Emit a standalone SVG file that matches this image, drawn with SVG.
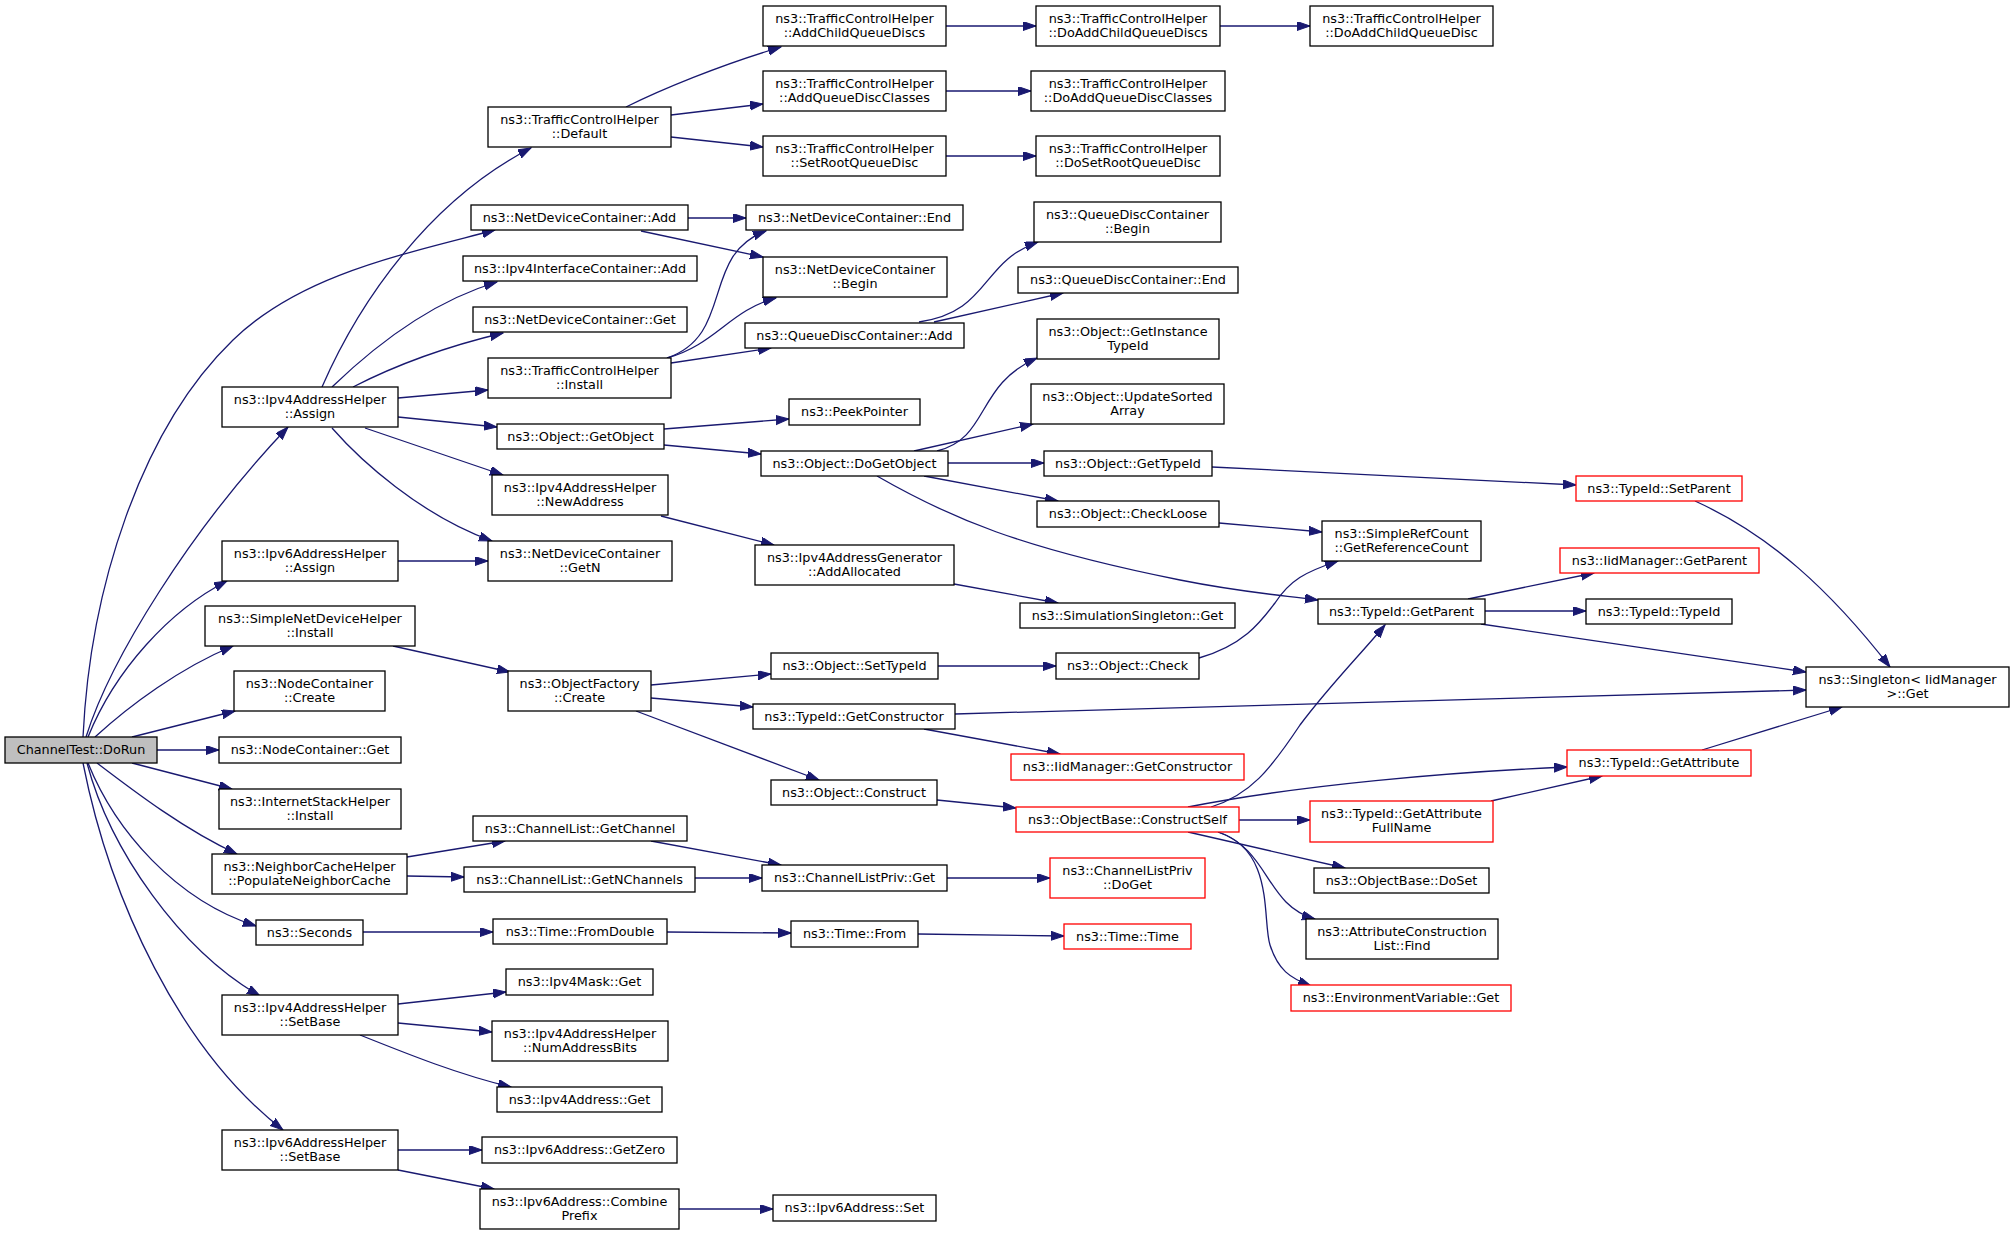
<svg xmlns="http://www.w3.org/2000/svg" width="2015" height="1235" viewBox="0 0 2015 1235">
<defs>
<style>
.n rect{fill:#ffffff;stroke:#000000;stroke-width:1.3}
.r rect{fill:#ffffff;stroke:#ff0000;stroke-width:1.3}
.root rect{fill:#bfbfbf;stroke:#000000;stroke-width:1.3}
text{font-family:"DejaVu Sans","Liberation Sans",sans-serif;font-size:12.8px;fill:#000000;text-anchor:middle}
.e path{fill:none;stroke:#191970;stroke-width:1.3;marker-end:url(#ah)}
</style>
<marker id="ah" markerWidth="14" markerHeight="10" refX="13" refY="4.5" orient="auto" markerUnits="userSpaceOnUse">
<path d="M0,0 L13,4.5 L0,9 z" fill="#191970" stroke="#191970" stroke-width="1"/>
</marker>
</defs>
<rect x="0" y="0" width="2015" height="1235" fill="#ffffff"/>

<g id="edges" class="e">
<path d="M83,737 C90,590 140,430 233,340 C300,275 400,255 495,230"/>
<path d="M86,737 C110,660 190,530 288,427"/>
<path d="M88,737 C115,670 170,610 227,581"/>
<path d="M95,737 C130,705 180,668 233,646"/>
<path d="M132,737 L235,711"/>
<path d="M157,750 L219,750"/>
<path d="M132,763 L232,789"/>
<path d="M97,763 C135,792 185,830 237,854"/>
<path d="M88,763 C115,830 175,900 256,926"/>
<path d="M87,763 C110,850 180,950 260,996"/>
<path d="M83,763 C110,900 180,1050 283,1130"/>

<path d="M322,387 C360,300 430,200 531,148"/>
<path d="M332,387 C360,360 420,305 497,282"/>
<path d="M353,387 C390,368 440,348 503,333"/>
<path d="M398,398 L488,390"/>
<path d="M398,417 L497,427"/>
<path d="M365,428 L503,475"/>
<path d="M332,428 C360,460 420,515 492,541"/>
<path d="M398,561 L488,561"/>

<path d="M626,107 C660,90 720,65 781,47"/>
<path d="M671,115 L763,104"/>
<path d="M671,137 L763,147"/>
<path d="M946,26 L1036,26"/>
<path d="M946,91 L1031,91"/>
<path d="M946,156 L1036,156"/>
<path d="M1220,26 L1310,26"/>

<path d="M688,218 L746,218"/>
<path d="M641,231 L763,257"/>
<path d="M667,358 C735,335 700,255 766,231"/>
<path d="M667,358 C715,345 730,310 776,298"/>
<path d="M671,363 L771,348"/>
<path d="M919,322 C990,312 980,262 1038,242"/>
<path d="M934,322 L1063,293"/>

<path d="M664,429 L789,419"/>
<path d="M664,445 L761,454"/>
<path d="M937,451 C990,438 975,385 1037,358"/>
<path d="M914,451 L1033,424"/>
<path d="M948,463 L1044,463"/>
<path d="M924,476 L1058,501"/>
<path d="M877,476 C950,518 1020,548 1180,580 C1240,592 1270,594 1318,600"/>
<path d="M1212,467 L1576,485"/>
<path d="M1219,523 L1322,532"/>

<path d="M661,516 L774,545"/>
<path d="M954,584 L1058,603"/>

<path d="M393,646 L510,672"/>
<path d="M651,685 L771,674"/>
<path d="M651,698 L753,707"/>
<path d="M636,711 L819,780"/>
<path d="M938,666 L1056,666"/>
<path d="M955,714 L1806,690"/>
<path d="M924,729 L1060,754"/>
<path d="M1199,658 C1245,645 1262,620 1275,603 C1290,580 1305,572 1338,561"/>
<path d="M937,800 L1016,808"/>

<path d="M1211,807 C1250,795 1270,770 1300,725 C1330,685 1360,655 1385,625"/>
<path d="M1188,807 C1300,785 1450,772 1567,767"/>
<path d="M1239,820 L1310,820"/>
<path d="M1188,832 L1345,868"/>
<path d="M1218,832 C1270,850 1265,905 1315,919"/>
<path d="M1218,832 C1275,850 1262,920 1270,945 C1278,970 1290,978 1311,986"/>
<path d="M1491,801 L1602,776"/>
<path d="M1702,750 L1842,707"/>
<path d="M1695,501 C1770,535 1830,590 1890,667"/>
<path d="M1468,599 L1594,573"/>
<path d="M1485,611 L1586,611"/>
<path d="M1481,624 L1806,672"/>

<path d="M407,857 L505,841"/>
<path d="M407,876 L464,877"/>
<path d="M651,841 L781,865"/>
<path d="M695,878 L762,878"/>
<path d="M947,878 L1050,878"/>
<path d="M363,932 L493,932"/>
<path d="M667,932 L791,933"/>
<path d="M918,934 L1064,936"/>
<path d="M398,1004 L506,992"/>
<path d="M398,1023 L492,1032"/>
<path d="M360,1035 C410,1055 460,1075 511,1087"/>
<path d="M398,1150 L482,1150"/>
<path d="M398,1170 L494,1189"/>
<path d="M679,1209 L773,1209"/>
</g>

<g id="n_dorun" class="root"><rect x="5" y="737" width="152" height="26"/><text x="81" y="754.3">ChannelTest::DoRun</text></g>
<g id="n_ndc_add" class="n"><rect x="471" y="205" width="217" height="25"/><text x="579.5" y="221.8">ns3::NetDeviceContainer::Add</text></g>
<g id="n_tch_default" class="n"><rect x="488" y="107" width="183" height="40"/><text x="579.5" y="123.5">ns3::TrafficControlHelper</text><text x="579.5" y="138">::Default</text></g>
<g id="n_ipv4ic_add" class="n"><rect x="463" y="256" width="234" height="25"/><text x="580" y="272.8">ns3::Ipv4InterfaceContainer::Add</text></g>
<g id="n_ndc_get" class="n"><rect x="473" y="307" width="214" height="25"/><text x="580" y="323.8">ns3::NetDeviceContainer::Get</text></g>
<g id="n_tch_install" class="n"><rect x="488" y="358" width="183" height="40"/><text x="579.5" y="374.5">ns3::TrafficControlHelper</text><text x="579.5" y="389">::Install</text></g>
<g id="n_ipv4h_assign" class="n"><rect x="222" y="387" width="176" height="40"/><text x="310" y="403.5">ns3::Ipv4AddressHelper</text><text x="310" y="418">::Assign</text></g>
<g id="n_getobject" class="n"><rect x="497" y="424" width="167" height="25"/><text x="580.5" y="440.8">ns3::Object::GetObject</text></g>
<g id="n_newaddress" class="n"><rect x="492" y="475" width="176" height="40"/><text x="580" y="491.5">ns3::Ipv4AddressHelper</text><text x="580" y="506">::NewAddress</text></g>
<g id="n_getn" class="n"><rect x="488" y="541" width="184" height="40"/><text x="580" y="557.5">ns3::NetDeviceContainer</text><text x="580" y="572">::GetN</text></g>
<g id="n_ipv6h_assign" class="n"><rect x="222" y="541" width="176" height="40"/><text x="310" y="557.5">ns3::Ipv6AddressHelper</text><text x="310" y="572">::Assign</text></g>
<g id="n_sndh_install" class="n"><rect x="205" y="606" width="210" height="40"/><text x="310" y="622.5">ns3::SimpleNetDeviceHelper</text><text x="310" y="637">::Install</text></g>
<g id="n_nc_create" class="n"><rect x="234" y="671" width="151" height="40"/><text x="309.5" y="687.5">ns3::NodeContainer</text><text x="309.5" y="702">::Create</text></g>
<g id="n_nc_get" class="n"><rect x="219" y="737" width="182" height="26"/><text x="310" y="754.3">ns3::NodeContainer::Get</text></g>
<g id="n_ish_install" class="n"><rect x="219" y="789" width="182" height="40"/><text x="310" y="805.5">ns3::InternetStackHelper</text><text x="310" y="820">::Install</text></g>
<g id="n_nch" class="n"><rect x="212" y="854" width="195" height="40"/><text x="309.5" y="870.5">ns3::NeighborCacheHelper</text><text x="309.5" y="885">::PopulateNeighborCache</text></g>
<g id="n_seconds" class="n"><rect x="256" y="920" width="107" height="25"/><text x="309.5" y="936.8">ns3::Seconds</text></g>
<g id="n_ipv4h_setbase" class="n"><rect x="222" y="995" width="176" height="40"/><text x="310" y="1011.5">ns3::Ipv4AddressHelper</text><text x="310" y="1026">::SetBase</text></g>
<g id="n_ipv6h_setbase" class="n"><rect x="222" y="1130" width="176" height="40"/><text x="310" y="1146.5">ns3::Ipv6AddressHelper</text><text x="310" y="1161">::SetBase</text></g>
<g id="n_of_create" class="n"><rect x="508" y="671" width="143" height="40"/><text x="579.5" y="687.5">ns3::ObjectFactory</text><text x="579.5" y="702">::Create</text></g>
<g id="n_cl_getchannel" class="n"><rect x="473" y="816" width="214" height="25"/><text x="580" y="832.8">ns3::ChannelList::GetChannel</text></g>
<g id="n_cl_getnchannels" class="n"><rect x="464" y="867" width="231" height="25"/><text x="579.5" y="883.8">ns3::ChannelList::GetNChannels</text></g>
<g id="n_time_fromdouble" class="n"><rect x="493" y="919" width="174" height="25"/><text x="580" y="935.8">ns3::Time::FromDouble</text></g>
<g id="n_ipv4mask_get" class="n"><rect x="506" y="969" width="147" height="26"/><text x="579.5" y="986.3">ns3::Ipv4Mask::Get</text></g>
<g id="n_numaddressbits" class="n"><rect x="492" y="1021" width="176" height="40"/><text x="580" y="1037.5">ns3::Ipv4AddressHelper</text><text x="580" y="1052">::NumAddressBits</text></g>
<g id="n_ipv4address_get" class="n"><rect x="497" y="1087" width="165" height="25"/><text x="579.5" y="1103.8">ns3::Ipv4Address::Get</text></g>
<g id="n_ipv6_getzero" class="n"><rect x="482" y="1137" width="195" height="26"/><text x="579.5" y="1154.3">ns3::Ipv6Address::GetZero</text></g>
<g id="n_ipv6_combine" class="n"><rect x="480" y="1189" width="199" height="40"/><text x="579.5" y="1205.5">ns3::Ipv6Address::Combine</text><text x="579.5" y="1220">Prefix</text></g>
<g id="n_tch_addchild" class="n"><rect x="763" y="6" width="183" height="40"/><text x="854.5" y="22.5">ns3::TrafficControlHelper</text><text x="854.5" y="37">::AddChildQueueDiscs</text></g>
<g id="n_tch_addclasses" class="n"><rect x="763" y="71" width="183" height="40"/><text x="854.5" y="87.5">ns3::TrafficControlHelper</text><text x="854.5" y="102">::AddQueueDiscClasses</text></g>
<g id="n_tch_setroot" class="n"><rect x="763" y="136" width="183" height="40"/><text x="854.5" y="152.5">ns3::TrafficControlHelper</text><text x="854.5" y="167">::SetRootQueueDisc</text></g>
<g id="n_ndc_end" class="n"><rect x="746" y="205" width="217" height="25"/><text x="854.5" y="221.8">ns3::NetDeviceContainer::End</text></g>
<g id="n_ndc_begin" class="n"><rect x="763" y="257" width="184" height="40"/><text x="855" y="273.5">ns3::NetDeviceContainer</text><text x="855" y="288">::Begin</text></g>
<g id="n_qdc_add" class="n"><rect x="745" y="323" width="219" height="25"/><text x="854.5" y="339.8">ns3::QueueDiscContainer::Add</text></g>
<g id="n_peekpointer" class="n"><rect x="789" y="399" width="131" height="26"/><text x="854.5" y="416.3">ns3::PeekPointer</text></g>
<g id="n_dogetobject" class="n"><rect x="761" y="451" width="187" height="25"/><text x="854.5" y="467.8">ns3::Object::DoGetObject</text></g>
<g id="n_addallocated" class="n"><rect x="755" y="545" width="199" height="40"/><text x="854.5" y="561.5">ns3::Ipv4AddressGenerator</text><text x="854.5" y="576">::AddAllocated</text></g>
<g id="n_settypeid" class="n"><rect x="771" y="653" width="167" height="26"/><text x="854.5" y="670.3">ns3::Object::SetTypeId</text></g>
<g id="n_getconstructor" class="n"><rect x="753" y="704" width="202" height="25"/><text x="854" y="720.8">ns3::TypeId::GetConstructor</text></g>
<g id="n_construct" class="n"><rect x="771" y="780" width="166" height="25"/><text x="854" y="796.8">ns3::Object::Construct</text></g>
<g id="n_clpriv_get" class="n"><rect x="762" y="865" width="185" height="26"/><text x="854.5" y="882.3">ns3::ChannelListPriv::Get</text></g>
<g id="n_time_from" class="n"><rect x="791" y="921" width="127" height="26"/><text x="854.5" y="938.3">ns3::Time::From</text></g>
<g id="n_ipv6_set" class="n"><rect x="773" y="1195" width="163" height="26"/><text x="854.5" y="1212.3">ns3::Ipv6Address::Set</text></g>
<g id="n_tch_doaddchildqds" class="n"><rect x="1036" y="6" width="184" height="40"/><text x="1128" y="22.5">ns3::TrafficControlHelper</text><text x="1128" y="37">::DoAddChildQueueDiscs</text></g>
<g id="n_tch_doaddchildqd" class="n"><rect x="1310" y="6" width="183" height="40"/><text x="1401.5" y="22.5">ns3::TrafficControlHelper</text><text x="1401.5" y="37">::DoAddChildQueueDisc</text></g>
<g id="n_tch_doaddclasses" class="n"><rect x="1031" y="71" width="194" height="40"/><text x="1128" y="87.5">ns3::TrafficControlHelper</text><text x="1128" y="102">::DoAddQueueDiscClasses</text></g>
<g id="n_tch_dosetroot" class="n"><rect x="1036" y="136" width="184" height="40"/><text x="1128" y="152.5">ns3::TrafficControlHelper</text><text x="1128" y="167">::DoSetRootQueueDisc</text></g>
<g id="n_qdc_begin" class="n"><rect x="1034" y="202" width="187" height="40"/><text x="1127.5" y="218.5">ns3::QueueDiscContainer</text><text x="1127.5" y="233">::Begin</text></g>
<g id="n_qdc_end" class="n"><rect x="1018" y="267" width="220" height="26"/><text x="1128" y="284.3">ns3::QueueDiscContainer::End</text></g>
<g id="n_getinstancetypeid" class="n"><rect x="1037" y="319" width="182" height="40"/><text x="1128" y="335.5">ns3::Object::GetInstance</text><text x="1128" y="350">TypeId</text></g>
<g id="n_updatesorted" class="n"><rect x="1031" y="384" width="193" height="40"/><text x="1127.5" y="400.5">ns3::Object::UpdateSorted</text><text x="1127.5" y="415">Array</text></g>
<g id="n_gettypeid" class="n"><rect x="1044" y="451" width="168" height="25"/><text x="1128" y="467.8">ns3::Object::GetTypeId</text></g>
<g id="n_checkloose" class="n"><rect x="1037" y="501" width="182" height="26"/><text x="1128" y="518.3">ns3::Object::CheckLoose</text></g>
<g id="n_simsingleton" class="n"><rect x="1020" y="603" width="215" height="25"/><text x="1127.5" y="619.8">ns3::SimulationSingleton::Get</text></g>
<g id="n_check" class="n"><rect x="1056" y="653" width="143" height="26"/><text x="1127.5" y="670.3">ns3::Object::Check</text></g>
<g id="n_iid_getconstructor" class="r"><rect x="1011" y="754" width="233" height="26"/><text x="1127.5" y="771.3">ns3::IidManager::GetConstructor</text></g>
<g id="n_constructself" class="r"><rect x="1016" y="807" width="223" height="25"/><text x="1127.5" y="823.8">ns3::ObjectBase::ConstructSelf</text></g>
<g id="n_clpriv_doget" class="r"><rect x="1050" y="858" width="155" height="40"/><text x="1127.5" y="874.5">ns3::ChannelListPriv</text><text x="1127.5" y="889">::DoGet</text></g>
<g id="n_time_time" class="r"><rect x="1064" y="924" width="127" height="25"/><text x="1127.5" y="940.8">ns3::Time::Time</text></g>
<g id="n_getrefcount" class="n"><rect x="1322" y="521" width="159" height="40"/><text x="1401.5" y="537.5">ns3::SimpleRefCount</text><text x="1401.5" y="552">::GetReferenceCount</text></g>
<g id="n_getparent" class="n"><rect x="1318" y="599" width="167" height="25"/><text x="1401.5" y="615.8">ns3::TypeId::GetParent</text></g>
<g id="n_getattrfullname" class="r"><rect x="1310" y="801" width="183" height="41"/><text x="1401.5" y="817.5">ns3::TypeId::GetAttribute</text><text x="1401.5" y="832">FullName</text></g>
<g id="n_doset" class="n"><rect x="1314" y="868" width="175" height="25"/><text x="1401.5" y="884.8">ns3::ObjectBase::DoSet</text></g>
<g id="n_find" class="n"><rect x="1306" y="919" width="192" height="40"/><text x="1402" y="935.5">ns3::AttributeConstruction</text><text x="1402" y="950">List::Find</text></g>
<g id="n_envvar" class="r"><rect x="1291" y="985" width="220" height="26"/><text x="1401" y="1002.3">ns3::EnvironmentVariable::Get</text></g>
<g id="n_setparent" class="r"><rect x="1576" y="476" width="166" height="25"/><text x="1659" y="492.8">ns3::TypeId::SetParent</text></g>
<g id="n_iid_getparent" class="r"><rect x="1560" y="548" width="199" height="25"/><text x="1659.5" y="564.8">ns3::IidManager::GetParent</text></g>
<g id="n_typeid_typeid" class="n"><rect x="1586" y="599" width="146" height="25"/><text x="1659" y="615.8">ns3::TypeId::TypeId</text></g>
<g id="n_getattribute" class="r"><rect x="1567" y="750" width="184" height="26"/><text x="1659" y="767.3">ns3::TypeId::GetAttribute</text></g>
<g id="n_singleton" class="n"><rect x="1806" y="667" width="203" height="40"/><text x="1907.5" y="683.5">ns3::Singleton&lt; IidManager</text><text x="1907.5" y="698">&gt;::Get</text></g>
</svg>
